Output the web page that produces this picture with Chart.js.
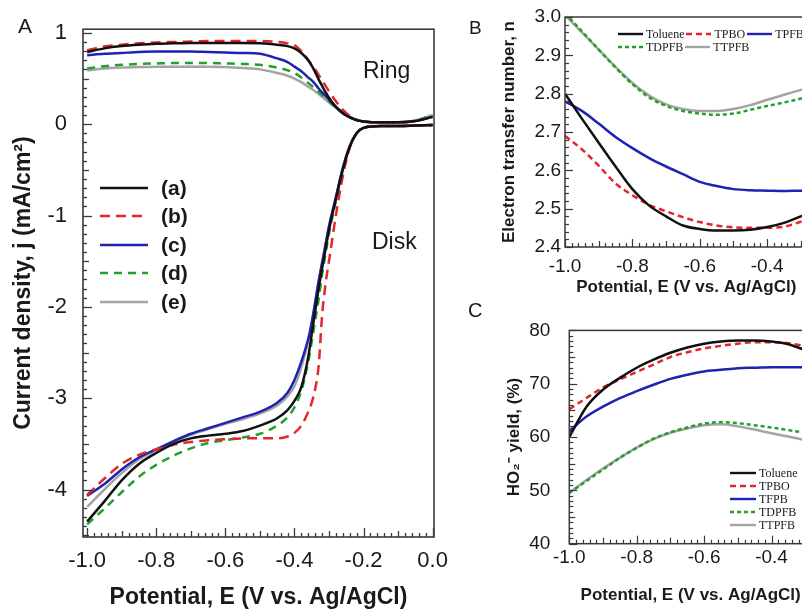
<!DOCTYPE html>
<html><head><meta charset="utf-8">
<script src="https://cdn.jsdelivr.net/npm/chart.js@4.4.1/dist/chart.umd.min.js"></script>
<style>
html,body{margin:0;padding:0;background:#fff;overflow:hidden;}
#wrap{position:relative;width:802px;height:609px;overflow:hidden;background:#fff;}
canvas{position:absolute;}
.t{position:absolute;font-family:'Liberation Sans',Arial,sans-serif;color:#1a1a1a;white-space:nowrap;line-height:1;}
.leg{position:absolute;display:flex;align-items:center;white-space:nowrap;line-height:1;color:#1a1a1a;}
.leg svg{display:block;flex:none;}
</style></head><body>
<div id="wrap">
<canvas id="cA" width="460" height="609" style="left:0;top:0"></canvas>
<canvas id="cB" width="360" height="300" style="left:460px;top:0"></canvas>
<canvas id="cC" width="360" height="309" style="left:460px;top:300px"></canvas>
<div class="t" style="left:18px;top:15px;font-size:21px">A</div>
<div class="t" style="left:469px;top:18px;font-size:19px">B</div>
<div class="t" style="left:468px;top:300px;font-size:20px">C</div>
<div class="t" style="left:363px;top:59px;font-size:23px">Ring</div>
<div class="t" style="left:372px;top:230px;font-size:23px">Disk</div>
<div id="legends"></div>
</div>
<script>
// ---------- Panel A data (potential E, V vs Ag/AgCl; current density mA/cm2) ----------
const potentialA = [-1.0,-0.95,-0.9,-0.85,-0.8,-0.75,-0.7,-0.65,-0.6,-0.55,-0.5,-0.45,-0.42,-0.4,-0.38,-0.36,-0.35,-0.34,-0.33,-0.32,-0.31,-0.3,-0.28,-0.26,-0.24,-0.22,-0.2,-0.15,-0.1,-0.05,0.0];
const labelsA = ['(a)','(b)','(c)','(d)','(e)'];
const ring_a = [0.79,0.83,0.855,0.87,0.88,0.885,0.89,0.89,0.89,0.89,0.885,0.87,0.855,0.83,0.78,0.70,0.64,0.57,0.49,0.42,0.35,0.29,0.19,0.12,0.075,0.045,0.03,0.02,0.02,0.035,0.08];
const ring_b = [0.81,0.85,0.87,0.885,0.895,0.90,0.905,0.91,0.91,0.91,0.91,0.90,0.885,0.865,0.80,0.70,0.65,0.60,0.54,0.48,0.42,0.36,0.25,0.16,0.09,0.05,0.03,0.02,0.02,0.035,0.08];
const ring_c = [0.755,0.77,0.78,0.79,0.795,0.795,0.795,0.79,0.785,0.78,0.77,0.72,0.68,0.63,0.58,0.51,0.48,0.44,0.39,0.35,0.31,0.27,0.19,0.13,0.08,0.045,0.03,0.02,0.02,0.035,0.08];
const ring_d = [0.61,0.635,0.65,0.66,0.665,0.67,0.67,0.67,0.665,0.66,0.65,0.62,0.59,0.56,0.51,0.45,0.42,0.39,0.355,0.32,0.285,0.25,0.18,0.12,0.075,0.045,0.03,0.02,0.02,0.04,0.10];
const ring_e = [0.59,0.61,0.62,0.625,0.63,0.63,0.63,0.63,0.625,0.615,0.60,0.56,0.53,0.50,0.46,0.41,0.385,0.36,0.33,0.30,0.27,0.24,0.18,0.12,0.075,0.045,0.03,0.02,0.02,0.04,0.10];
const disk_a = [-4.35,-4.13,-3.90,-3.72,-3.60,-3.50,-3.44,-3.41,-3.39,-3.36,-3.30,-3.22,-3.13,-3.03,-2.88,-2.55,-2.30,-2.05,-1.80,-1.58,-1.37,-1.16,-0.82,-0.50,-0.25,-0.10,-0.04,-0.02,-0.02,-0.015,-0.01];
const disk_b = [-4.06,-3.88,-3.72,-3.62,-3.56,-3.51,-3.48,-3.46,-3.45,-3.44,-3.44,-3.44,-3.42,-3.38,-3.30,-3.15,-3.05,-2.90,-2.65,-2.10,-1.75,-1.50,-1.00,-0.57,-0.26,-0.10,-0.04,-0.02,-0.02,-0.015,-0.01];
const disk_c = [-4.07,-3.94,-3.78,-3.65,-3.56,-3.47,-3.39,-3.33,-3.27,-3.21,-3.15,-3.05,-2.94,-2.80,-2.60,-2.35,-2.17,-1.95,-1.72,-1.52,-1.32,-1.12,-0.80,-0.48,-0.24,-0.10,-0.04,-0.02,-0.02,-0.015,-0.01];
const disk_d = [-4.38,-4.21,-4.03,-3.86,-3.73,-3.63,-3.55,-3.49,-3.46,-3.43,-3.39,-3.30,-3.21,-3.10,-2.92,-2.60,-2.38,-2.15,-1.92,-1.65,-1.42,-1.20,-0.84,-0.51,-0.25,-0.10,-0.04,-0.02,-0.02,-0.015,-0.01];
const disk_e = [-4.19,-4.00,-3.82,-3.67,-3.57,-3.48,-3.40,-3.34,-3.28,-3.23,-3.17,-3.08,-2.98,-2.87,-2.66,-2.38,-2.19,-1.96,-1.73,-1.52,-1.32,-1.12,-0.80,-0.48,-0.24,-0.10,-0.04,-0.02,-0.02,-0.015,-0.01];
const ticksAx = [-1.0,-0.8,-0.6,-0.4,-0.2,0.0];
const ticksAy = [1,0,-1,-2,-3,-4];

// ---------- Panels B and C data ----------
const potentialBC = [-1.0,-0.95,-0.9,-0.85,-0.8,-0.75,-0.7,-0.65,-0.6,-0.55,-0.5,-0.45,-0.4,-0.35,-0.3,-0.28];
const labelsB = ['Toluene','TPBO','TPFB','TDPFB','TTPFB'];
const labelsC = ['Toluene','TPBO','TFPB','TDPFB','TTPFB'];
const n_toluene = [2.80,2.735,2.672,2.61,2.551,2.508,2.48,2.456,2.447,2.443,2.443,2.445,2.452,2.463,2.48,2.487];
const n_tpbo    = [2.69,2.655,2.612,2.566,2.535,2.51,2.493,2.478,2.465,2.456,2.451,2.45,2.45,2.453,2.466,2.472];
const n_tpfb    = [2.78,2.755,2.722,2.687,2.658,2.632,2.61,2.59,2.57,2.559,2.551,2.548,2.547,2.546,2.547,2.547];
const n_tdpfb   = [3.01,2.963,2.915,2.868,2.825,2.79,2.768,2.755,2.748,2.745,2.748,2.758,2.768,2.777,2.787,2.792];
const n_ttpfb   = [3.005,2.96,2.915,2.87,2.828,2.795,2.772,2.76,2.755,2.755,2.76,2.77,2.784,2.797,2.81,2.815];
const y_toluene = [60.0,65.6,68.9,71.1,73.0,74.5,75.8,76.8,77.5,77.9,78.1,78.1,77.9,77.4,76.3,75.8];
const y_tpbo    = [65.2,67.3,69.3,70.8,72.2,73.6,75.0,75.9,76.6,77.1,77.5,77.8,77.8,77.6,77.0,76.6];
const y_tfpb    = [61.1,63.8,65.7,67.3,68.6,69.8,70.9,71.7,72.3,72.6,72.9,73.0,73.1,73.1,73.1,73.0];
const y_tdpfb   = [49.5,51.7,53.9,56.1,58.0,59.7,60.9,61.8,62.5,62.8,62.6,62.2,61.8,61.3,60.8,60.6];
const y_ttpfb   = [49.6,51.9,54.1,56.1,58.0,59.6,60.8,61.6,62.2,62.4,62.0,61.4,60.7,60.1,59.4,59.1];
const ticksBx = [-1.0,-0.8,-0.6,-0.4];
const ticksBy = [2.4,2.5,2.6,2.7,2.8,2.9,3.0];
const ticksCx = [-1.0,-0.8,-0.6,-0.4];
const ticksCy = [40,50,60,70,80];

// ---------- styles ----------
const FONT = "'Liberation Sans', Arial, sans-serif";
Chart.defaults.font.family = FONT;
Chart.defaults.color = '#1a1a1a';
const INK = '#1a1a1a';
const COL = ['#111111', '#e3262b', '#2022b2', '#22a02a', '#a4a4a4'];
const DASH_A = [[], [10, 6], [], [8, 6], []];
const DASH_BC = [[], [6, 4], [], [4, 3], []];

const frameTicks = {
  id: 'frameTicks',
  afterDatasetsDraw(chart, args, o) {
    const {ctx, chartArea: a} = chart;
    const sx = chart.scales.x, sy = chart.scales.y;
    ctx.save();
    ctx.strokeStyle = o.color;
    ctx.lineWidth = o.tickWidth;
    const draw = (scale, spec, horiz) => {
      const [minor, mid, major] = spec;
      const k0 = Math.ceil(scale.min / minor - 1e-6), k1 = Math.floor(scale.max / minor + 1e-6);
      const rMid = Math.round(mid / minor), rMaj = Math.round(major / minor);
      for (let k = k0; k <= k1; k++) {
        const len = (k % rMaj === 0) ? o.major : ((k % rMid === 0) ? o.mid : o.minor);
        const p = Math.round(scale.getPixelForValue(k * minor)) + 0.5;
        ctx.beginPath();
        if (horiz) { ctx.moveTo(p, a.bottom); ctx.lineTo(p, a.bottom - len); }
        else { ctx.moveTo(a.left, p); ctx.lineTo(a.left + len, p); }
        ctx.stroke();
      }
    };
    draw(sx, o.x, true);
    draw(sy, o.y, false);
    ctx.lineWidth = o.frameWidth;
    ctx.strokeRect(a.left, a.top, a.right - a.left, a.bottom - a.top);
    ctx.restore();
  }
};

function ds(label, xs, ys, color, dash, width) {
  return {label, data: xs.map((x, i) => ({x, y: ys[i]})), borderColor: color, backgroundColor: color,
    borderWidth: width, borderDash: dash, pointRadius: 0, fill: false, cubicInterpolationMode: 'monotone'};
}

function axis(o) {
  return {
    type: 'linear', min: o.min, max: o.max,
    afterBuildTicks: s => { s.ticks = o.ticks.map(v => ({value: v})); },
    afterFit: s => { if (o.w !== undefined) s.width = o.w; if (o.h !== undefined) s.height = o.h; },
    grid: {display: false, drawTicks: false},
    border: {display: false},
    ticks: {font: {size: o.fs}, padding: o.pad, color: INK, autoSkip: false, maxRotation: 0, callback: o.fmt},
    title: {display: true, text: o.title, color: INK, font: {size: o.tfs, weight: 'bold', lineHeight: 1}, padding: o.tpad}
  };
}

function makeChart(id, datasets, xAxis, yAxis, padding, tickSpec) {
  return new Chart(document.getElementById(id), {
    type: 'line',
    data: {datasets},
    options: {
      responsive: false, animation: false, devicePixelRatio: 1,
      layout: {padding},
      plugins: {legend: {display: false}, tooltip: {enabled: false}, frameTicks: tickSpec},
      scales: {x: xAxis, y: yAxis}
    },
    plugins: [frameTicks]
  });
}

// ---------- Chart A ----------
const ringsA = [ring_a, ring_b, ring_c, ring_d, ring_e];
const disksA = [disk_a, disk_b, disk_c, disk_d, disk_e];
const dsA = [];
ringsA.forEach((r, i) => dsA.push(ds(labelsA[i] + ' ring', potentialA, r, COL[i], DASH_A[i], 2.5)));
disksA.forEach((d, i) => dsA.push(ds(labelsA[i] + ' disk', potentialA, d, COL[i], DASH_A[i], 2.5)));
makeChart('cA', dsA,
  axis({min: -1.012, max: 0.004, ticks: ticksAx, h: 72, fs: 22, pad: 11, fmt: v => v.toFixed(1),
        title: 'Potential, E (V vs. Ag/AgCl)', tfs: 23, tpad: {top: 0, bottom: 0}}),
  axis({min: -4.52, max: 1.04, ticks: ticksAy, w: 83, fs: 22, pad: 16, fmt: v => String(v),
        title: 'Current density, j (mA/cm²)', tfs: 23, tpad: {top: 12, bottom: 0}}),
  {left: 0, top: 25, right: 26, bottom: 0},
  {color: '#3a3a3a', tickWidth: 1.3, frameWidth: 1.6, major: 9, mid: 6, minor: 4, x: [0.02, 0.1, 0.2], y: [0.1, 0.5, 1]});

// ---------- Chart B ----------
const nB = [n_toluene, n_tpbo, n_tpfb, n_tdpfb, n_ttpfb];
makeChart('cB', nB.map((v, i) => ds(labelsB[i], potentialBC, v, COL[i], DASH_BC[i], 2.5)),
  axis({min: -1.0, max: -0.28, ticks: ticksBx, h: 53, fs: 19, pad: 8, fmt: v => v.toFixed(1),
        title: 'Potential, E (V vs. Ag/AgCl)', tfs: 17, tpad: {top: 0, bottom: 4.5}}),
  axis({min: 2.4, max: 3.0, ticks: ticksBy, w: 105, fs: 19, pad: 4, fmt: v => v.toFixed(1),
        title: 'Electron transfer number, n', tfs: 17, tpad: {top: 41, bottom: 0}}),
  {left: 0, top: 17, right: 12.4, bottom: 0},
  {color: '#3a3a3a', tickWidth: 1.2, frameWidth: 1.5, major: 8, mid: 6, minor: 4, x: [0.02, 0.1, 0.2], y: [0.02, 0.1, 0.1]});

// ---------- Chart C ----------
const yC = [y_toluene, y_tpbo, y_tfpb, y_tdpfb, y_ttpfb];
makeChart('cC', yC.map((v, i) => ds(labelsC[i], potentialBC, v, COL[i], DASH_BC[i], 2.5)),
  axis({min: -1.0, max: -0.28, ticks: ticksCx, h: 65.3, fs: 19, pad: 3, fmt: v => v.toFixed(1),
        title: 'Potential, E (V vs. Ag/AgCl)', tfs: 17, tpad: {top: 0, bottom: 5.5}}),
  axis({min: 40, max: 80, ticks: ticksCy, w: 109.3, fs: 19, pad: 19, fmt: v => String(v),
        title: 'HO₂⁻ yield, (%)', tfs: 17, tpad: {top: 46, bottom: 0}}),
  {left: 0, top: 15, right: 8, bottom: 0},
  {color: '#3a3a3a', tickWidth: 1.2, frameWidth: 1.5, major: 8, mid: 6, minor: 4, x: [0.02, 0.1, 0.2], y: [1, 5, 10]});

// ---------- Legends (HTML text) ----------
function lineSvg(w, color, dash, lw) {
  return '<svg width="' + w + '" height="8"><line x1="0" y1="4" x2="' + w + '" y2="4" stroke="' + color +
    '" stroke-width="' + lw + '" stroke-dasharray="' + (dash.length ? dash.join(',') : 'none') + '"/></svg>';
}
const L = document.getElementById('legends');
let html = '';
const rowA = [188, 216, 245, 273, 302];
labelsA.forEach((lab, i) => {
  html += '<div class="leg" style="left:100px;top:' + (rowA[i] - 12) + 'px;height:24px;font:bold 21px ' + FONT + '">' +
    lineSvg(48, COL[i], DASH_A[i], 2.6) + '<span style="margin-left:13px">' + lab + '</span></div>';
});
const serif = "12px 'Liberation Serif', 'Times New Roman', serif";
const rowsB = [[0, 1, 2], [3, 4]], rowBy = [34, 47];
rowsB.forEach((r, j) => {
  let inner = '';
  r.forEach(i => { inner += lineSvg(25, COL[i], DASH_BC[i], 2.4) + '<span style="margin:0 2px 0 3px">' + labelsB[i] + '</span>'; });
  html += '<div class="leg" style="left:618px;top:' + (rowBy[j] - 7) + 'px;height:14px;font:' + serif + '">' + inner + '</div>';
});
const rowC = [473, 486, 499, 512, 525];
labelsC.forEach((lab, i) => {
  html += '<div class="leg" style="left:730px;top:' + (rowC[i] - 7) + 'px;height:14px;font:' + serif + '">' +
    lineSvg(26, COL[i], DASH_BC[i], 2.4) + '<span style="margin-left:3px">' + lab + '</span></div>';
});
L.innerHTML = html;
</script>
</body></html>
